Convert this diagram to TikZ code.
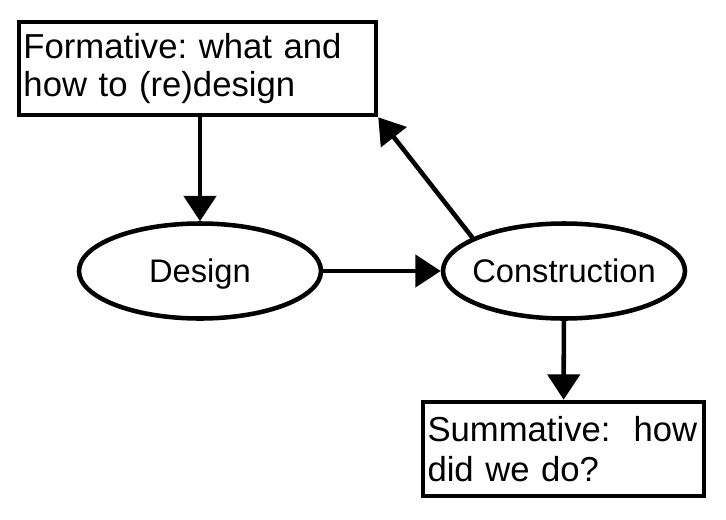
\documentclass[tikz,border=0pt]{standalone}
\usepackage{fontspec}
\setmainfont{Liberation Sans}
\frenchspacing
\usetikzlibrary{arrows.meta,shapes.geometric}
\begin{document}
\begin{tikzpicture}[x=0.75pt, y=-0.75pt, line width=3.4pt,
		arr/.style={-{Triangle[length=19pt,width=24pt]}},
		notebox/.style={draw, rectangle, align=left, inner xsep=3pt, font=\fontsize{26}{28.5}\selectfont},
		phase/.style={draw, ellipse, minimum width=181.5pt, minimum height=71.25pt, inner sep=0pt, text depth=0pt, font=\fontsize{24.5}{28}\selectfont}]
		\useasboundingbox[fill=white] (0,0) rectangle (726,519);
		\node (formative) [notebox, minimum width=267.75pt, minimum height=69.75pt, text width=261pt] at (197.5,68.5) {Formative: what and\\how to (re)design};
		\node (design) [phase] at (200,271) {\makebox[0pt]{Design}};
		\node (construction) [phase] at (564,271) {\makebox[0pt]{Construction}};
		\node (summative) [notebox, minimum width=210.75pt, minimum height=70.5pt, text width=204pt, font=\fontsize{26}{30}\selectfont] at (563.5,449) {Summative:\ \ how\\did we do?};
		
		\draw[arr] (formative.south -| design.north) -- (design.north);
		\draw[arr] (design) -- (construction);
		\draw[arr] (construction.160) -- (formative.south east);
		\draw[arr] (construction) -- (summative);
	\end{tikzpicture}
\end{document}
